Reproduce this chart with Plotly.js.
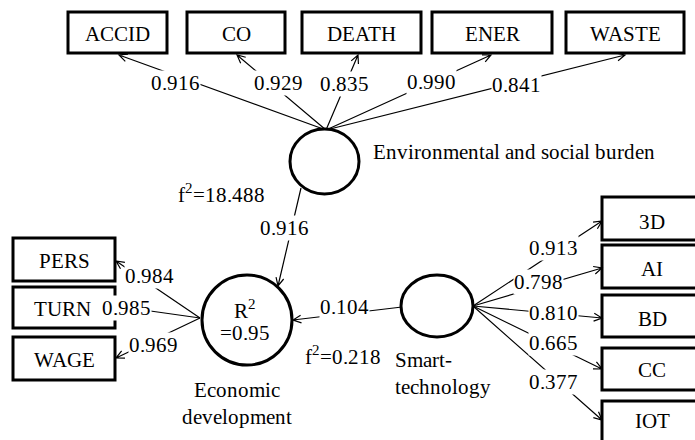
<!DOCTYPE html>
<html><head><meta charset="utf-8">
<script src="https://cdn.plot.ly/plotly-3.0.1.min.js"></script>
<style>
@font-face { font-family: 'PathSerif'; src: local('Liberation Serif'), local('LiberationSerif'), local('Liberation Serif Regular'), local('LiberationSerif-Regular'), local('Times New Roman'); }
</style>
</head><body style="margin:0;padding:0"><div id="chart"></div>
<script>
// ---- data ----
const esbIndicators = ['ACCID', 'CO', 'DEATH', 'ENER', 'WASTE'];
const esbLoadings = [0.916, 0.929, 0.835, 0.990, 0.841];
const econIndicators = ['PERS', 'TURN', 'WAGE'];
const econLoadings = [0.984, 0.985, 0.969];
const smartIndicators = ['3D', 'AI', 'BD', 'CC', 'IOT'];
const smartLoadings = [0.913, 0.798, 0.810, 0.665, 0.377];
const constructNames = ['Environmental and social burden', 'Economic<br>development', 'Smart-<br>technology'];
const pathCoefs = [0.916, 0.104];   // ESB -> Econ, Smart -> Econ
const fSquared = [18.488, 0.218];
const rSquared = 0.95;

// ---- layout geometry (positions, not data) ----
const G = {
  esb: {cx: 324.5, cy: 161.5, rx: 34.5, ry: 32.5},
  econ: {cx: 247, cy: 320, rx: 45, ry: 45},
  smart: {cx: 437, cy: 306, rx: 36, ry: 31},
  topBoxes: [[68,167],[187,285],[302,421],[432,552],[566,684]], topY: [12,53],
  topTips: [[119,55],[237,55],[358,55],[491,55],[625,55]], topStart: [326,130],
  topLabels: [[175,83],[278,83],[344,84],[431,82],[516,85]],
  leftBoxes: [[238,281],[287,328],[337,380]], leftX: [13,115],
  leftTips: [[116,261],[115,306],[116,358]], leftStart: [200,318],
  leftLabels: [[149,276],[126,308],[153,345]],
  rightBoxes: [[197,240],[245,288],[295,337],[348,390],[401,450]], rightX: [602,702],
  rightTips: [[602,221],[602,268],[602,318],[602,369],[602,420]], rightStart: [473,306],
  rightLabels: [[553,248],[538,282],[553,313],[553,343],[553,382]]
};

const FAMILY = 'PathSerif, Liberation Serif, Times New Roman, serif';
function font() { return {family: FAMILY, size: 21, color: '#000'}; }
const shapes = [];
const annotations = [];

function arrow(x0, y0, x1, y1) {
  const a = Math.atan2(y1 - y0, x1 - x0), L = 9, h = 0.45;
  const p1 = [x1 - L * Math.cos(a - h), y1 - L * Math.sin(a - h)];
  const p2 = [x1 - L * Math.cos(a + h), y1 - L * Math.sin(a + h)];
  shapes.push({type: 'path', xref: 'x', yref: 'y', layer: 'below',
    path: `M${x0},${y0}L${x1},${y1}M${p1[0]},${p1[1]}L${x1},${y1}L${p2[0]},${p2[1]}`,
    line: {color: '#000', width: 1.2}});
}
function box(x0, x1, y0, y1) {
  shapes.push({type: 'rect', xref: 'x', yref: 'y', x0, x1, y0, y1, layer: 'below',
    fillcolor: 'rgba(0,0,0,0)', line: {color: '#000', width: 3}});
}
function ell(n) {
  shapes.push({type: 'circle', xref: 'x', yref: 'y', layer: 'below', x0: n.cx - n.rx, x1: n.cx + n.rx,
    y0: n.cy - n.ry, y1: n.cy + n.ry, fillcolor: '#fff', line: {color: '#000', width: 3}});
}
function txt(text, x, y, opts) {
  annotations.push(Object.assign({text, x, y, xref: 'x', yref: 'y', showarrow: false,
    font: font(), xanchor: 'center', yanchor: 'middle'}, opts || {}));
}
function lbl(v, x, y) {
  txt(v.toFixed(3), x, y, {bgcolor: '#fff', borderpad: 0});
}

esbIndicators.forEach((name, i) => {
  const b = G.topBoxes[i];
  box(b[0], b[1], G.topY[0], G.topY[1]);
  txt(name, (b[0] + b[1]) / 2, (G.topY[0] + G.topY[1]) / 2 + 1);
  arrow(G.topStart[0], G.topStart[1], G.topTips[i][0], G.topTips[i][1]);
  lbl(esbLoadings[i], G.topLabels[i][0], G.topLabels[i][1]);
});
econIndicators.forEach((name, i) => {
  const b = G.leftBoxes[i];
  box(G.leftX[0], G.leftX[1], b[0], b[1]);
  txt(name, (G.leftX[0] + G.leftX[1]) / 2 - (i === 1 ? 2 : 0), (b[0] + b[1]) / 2 + 1);
  arrow(G.leftStart[0], G.leftStart[1], G.leftTips[i][0], G.leftTips[i][1]);
  lbl(econLoadings[i], G.leftLabels[i][0], G.leftLabels[i][1]);
});
smartIndicators.forEach((name, i) => {
  const b = G.rightBoxes[i];
  box(G.rightX[0], G.rightX[1], b[0], b[1]);
  txt(name, (G.rightX[0] + G.rightX[1]) / 2, G.rightTips[i][1] + 1);
  arrow(G.rightStart[0], G.rightStart[1], G.rightTips[i][0], G.rightTips[i][1]);
  lbl(smartLoadings[i], G.rightLabels[i][0], G.rightLabels[i][1]);
});

arrow(301, 188, 278, 286);
lbl(pathCoefs[0], 284, 228);
arrow(402, 307, 293, 320);
lbl(pathCoefs[1], 344, 307);

ell(G.esb); ell(G.econ); ell(G.smart);

txt(constructNames[0], 371, 152, {xanchor: 'left'});
txt(constructNames[1], 237, 403);
txt(constructNames[2], 393, 373, {xanchor: 'left', align: 'left'});
txt('R<sup>2</sup>', 245, 309);
txt('=' + rSquared.toFixed(2), 245, 333);
txt('f<sup>2</sup>=' + fSquared[0].toFixed(3), 221, 193);
txt('f<sup>2</sup>=' + fSquared[1].toFixed(3), 343, 355);

Plotly.newPlot('chart', [], {
  width: 695, height: 440, margin: {l: 0, r: 0, t: 0, b: 0},
  paper_bgcolor: '#fff', plot_bgcolor: '#fff', showlegend: false,
  font: {family: FAMILY},
  xaxis: {range: [0, 695], visible: false, showgrid: false, zeroline: false, fixedrange: true},
  yaxis: {range: [440, 0], visible: false, showgrid: false, zeroline: false, fixedrange: true},
  shapes, annotations
}, {staticPlot: true});
</script></body></html>
